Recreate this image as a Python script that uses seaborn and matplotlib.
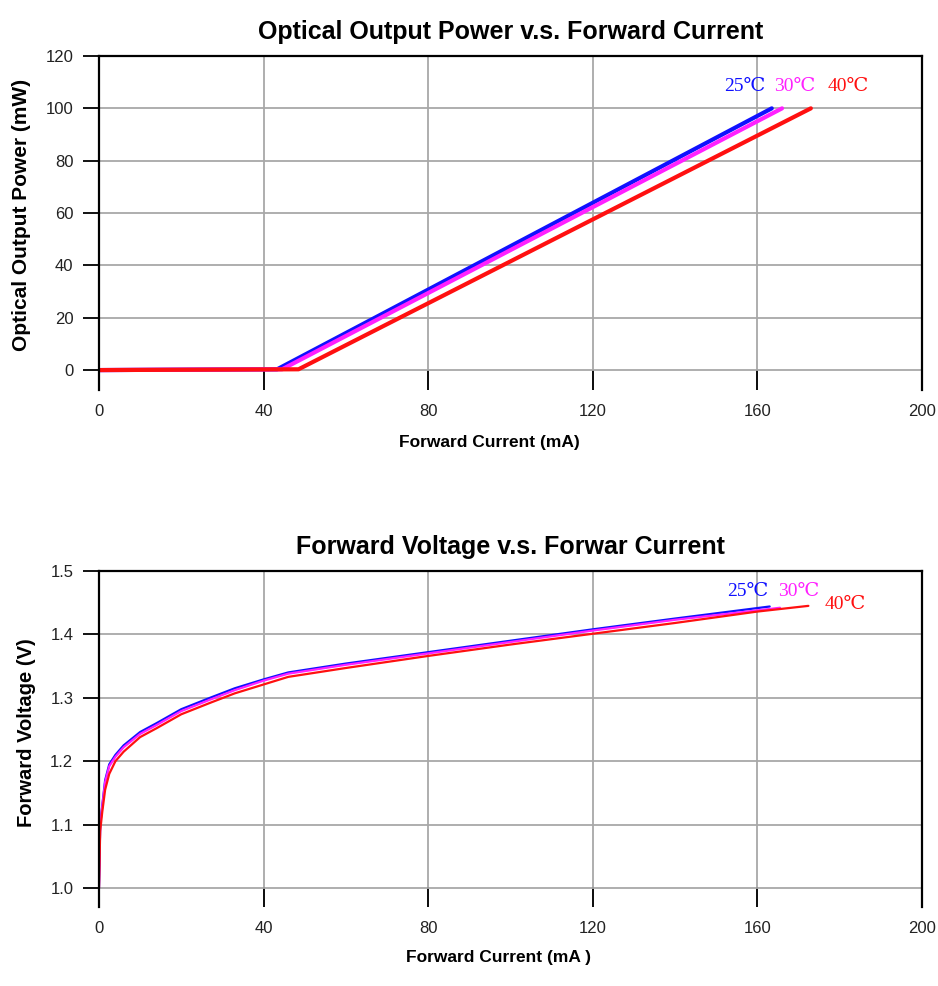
import pandas as pd
import matplotlib.pyplot as plt
import seaborn as sns

# Optical output power vs forward current
current_25 = [0, 43.3, 163.5]
power_25 = [0, 0.3, 100]
current_30 = [0, 44.5, 166.0]
power_30 = [0, 0.3, 100]
current_40 = [0, 48.5, 173.0]
power_40 = [0, 0.3, 100]

# Forward voltage vs forward current
vi_current_25 = [0, 0.3, 0.8, 1.5, 2.5, 4, 6, 10, 14, 20, 27, 33, 40, 46, 60, 80, 100, 120, 140, 163]
voltage_25 = [1.00, 1.10, 1.13, 1.17, 1.195, 1.21, 1.225, 1.246, 1.26, 1.282, 1.30, 1.315,
              1.329, 1.34, 1.354, 1.372, 1.39, 1.408, 1.425, 1.444]
vi_current_30 = [0, 0.3, 0.8, 1.5, 2.5, 4, 6, 10, 14, 20, 27, 33, 40, 46, 60, 80, 100, 120, 140, 165.5]
voltage_30 = [1.00, 1.10, 1.128, 1.167, 1.192, 1.207, 1.222, 1.243, 1.257, 1.279, 1.297, 1.312,
              1.327, 1.338, 1.352, 1.370, 1.388, 1.406, 1.423, 1.442]
vi_current_40 = [0, 0.3, 0.8, 1.5, 2.5, 4, 6, 10, 14, 20, 27, 33, 40, 46, 60, 80, 100, 120, 140, 160, 172.4]
voltage_40 = [1.00, 1.09, 1.12, 1.155, 1.18, 1.20, 1.215, 1.238, 1.252, 1.274, 1.292, 1.307,
              1.321, 1.333, 1.347, 1.366, 1.384, 1.401, 1.418, 1.436, 1.445]

temps = ['25℃', '30℃', '40℃']
colors = ['#1010ff', '#ff20ff', '#ff1010']

x_ticks = [0, 40, 80, 120, 160, 200]
power_ticks = [0, 20, 40, 60, 80, 100, 120]
voltage_ticks = [1.0, 1.1, 1.2, 1.3, 1.4, 1.5]

sns.set_style('white')
plt.rcParams['font.family'] = ['Liberation Sans', 'DejaVu Sans']
plt.rcParams['text.color'] = 'black'
plt.rcParams['axes.labelcolor'] = 'black'
plt.rcParams['axes.titlecolor'] = 'black'

fig = plt.figure(figsize=(9.38, 9.86), dpi=100)
ax1 = fig.add_axes([0.1055, 0.6045, 0.8774, 0.3387])
ax2 = fig.add_axes([0.1055, 0.0801, 0.8774, 0.3408])

tick_font = ['Liberation Sans Narrow', 'Liberation Sans', 'DejaVu Sans']
label_font = ['Liberation Serif', 'DejaVu Serif', 'DejaVu Sans']


def style_axes(ax, yticks, ylim):
    ax.set_xlim(0, 200)
    ax.set_ylim(*ylim)
    ax.set_xticks(x_ticks)
    ax.set_yticks(yticks)
    ax.grid(True, color='#a8a8a8', linewidth=1.3)
    for side in ['top', 'left', 'right']:
        ax.spines[side].set_visible(True)
        ax.spines[side].set_color('black')
        ax.spines[side].set_linewidth(1.6)
    ax.spines['bottom'].set_visible(False)
    ax.tick_params(axis='x', direction='in', length=14.5, width=1.3, color='black',
                   pad=10, bottom=True)
    ax.tick_params(axis='y', direction='out', length=11.5, width=1.3, color='black',
                   pad=7, left=True)


def style_ticklabels(ax):
    for lab in ax.get_xticklabels() + ax.get_yticklabels():
        lab.set_family(tick_font)
        lab.set_fontsize(12)
        lab.set_color('#222222')


# --- top panel ---
top_series = [(current_25, power_25), (current_30, power_30), (current_40, power_40)]
for (xs, ys), temp, col in zip(top_series, temps, colors):
    df = pd.DataFrame({'current': xs, 'value': ys})
    sns.lineplot(data=df, x='current', y='value', ax=ax1, color=col, linewidth=3,
                 estimator=None, sort=False)

style_axes(ax1, power_ticks, (-7.6, 120))
style_ticklabels(ax1)
ax1.set_title('Optical Output Power v.s. Forward Current', fontsize=18,
              fontweight='bold', pad=12)
ax1.set_xlabel('Forward Current (mA)', fontsize=12.5, fontweight='bold')
ax1.xaxis.set_label_coords(0.474, -0.135)
ax1.set_ylabel('Optical Output Power (mW)', fontsize=15, fontweight='bold')
ax1.yaxis.set_label_coords(-0.082, 0.524)

top_label_x = [157, 169, 182]
top_label_y = [108.5, 108.5, 108.5]
for tx, ty, temp, col in zip(top_label_x, top_label_y, temps, colors):
    ax1.text(tx, ty, temp, color=col, fontsize=14, family=label_font,
             ha='center', va='center')

# --- bottom panel ---
bottom_series = [(vi_current_25, voltage_25), (vi_current_30, voltage_30),
                 (vi_current_40, voltage_40)]
for (xs, ys), temp, col in zip(bottom_series, temps, colors):
    df = pd.DataFrame({'current': xs, 'value': ys})
    sns.lineplot(data=df, x='current', y='value', ax=ax2, color=col, linewidth=1.6,
                 estimator=None, sort=False)

style_axes(ax2, voltage_ticks, (0.97, 1.5))
ax2.set_yticklabels(['1.0', '1.1', '1.2', '1.3', '1.4', '1.5'])
style_ticklabels(ax2)
ax2.set_title('Forward Voltage v.s. Forwar Current', fontsize=18,
              fontweight='bold', pad=12)
ax2.set_xlabel('Forward Current (mA )', fontsize=12.5, fontweight='bold')
ax2.xaxis.set_label_coords(0.485, -0.128)
ax2.set_ylabel('Forward Voltage (V)', fontsize=14.5, fontweight='bold')
ax2.yaxis.set_label_coords(-0.076, 0.518)

bottom_label_x = [157.7, 170.0, 181.3]
bottom_label_y = [1.467, 1.467, 1.447]
for tx, ty, temp, col in zip(bottom_label_x, bottom_label_y, temps, colors):
    ax2.text(tx, ty, temp, color=col, fontsize=14, family=label_font,
             ha='center', va='center')

fig.savefig('out.png', dpi=100)
